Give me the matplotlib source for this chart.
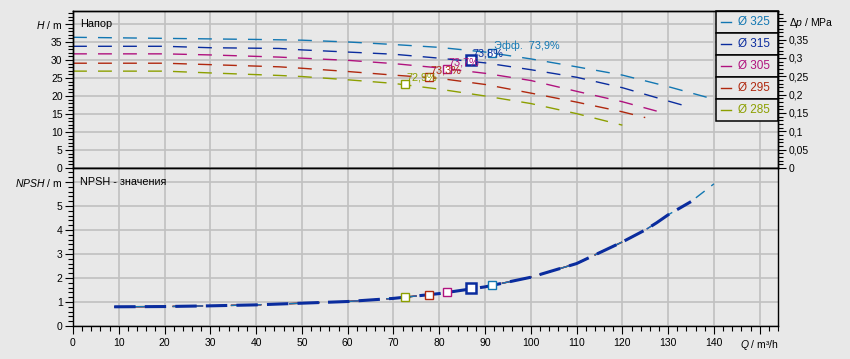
import numpy as np
import matplotlib
matplotlib.use('Agg')
import matplotlib.pyplot as plt
from matplotlib.patches import Rectangle
from matplotlib.ticker import MultipleLocator, FuncFormatter

plt.rcParams['font.family'] = ['Liberation Sans', 'DejaVu Sans']
plt.rcParams['mathtext.fontset'] = 'custom'
plt.rcParams['mathtext.it'] = 'Liberation Sans:italic'
plt.rcParams['mathtext.rm'] = 'Liberation Sans'

# диаметры рабочих колес
diam = [325, 315, 305, 295, 285]
colors = ['#1277b2', '#0a2c9e', '#b0127e', '#b0280e', '#8c9f00']

# напорные характеристики (Q м3/ч, H м)
q_325 = [0, 20, 40, 50, 60, 70, 80, 90, 100, 110, 120, 130, 140, 146]
h_325 = [36.3, 36.0, 35.7, 35.5, 35.0, 34.3, 33.5, 32.2, 30.3, 28.1, 25.8, 22.6, 19.1, 17.0]
q_315 = [0, 20, 30, 45, 50, 60, 70, 80, 90, 100, 110, 120, 130, 135]
h_315 = [33.8, 33.8, 33.4, 33.2, 32.8, 32.2, 31.6, 30.5, 29.2, 27.3, 25.2, 22.3, 18.6, 16.8]
q_305 = [0, 20, 30, 45, 50, 60, 70, 80, 90, 100, 110, 120, 127.5]
h_305 = [31.7, 31.7, 31.4, 30.8, 30.5, 29.9, 29.0, 27.8, 26.3, 24.3, 21.3, 18.4, 15.8]
q_295 = [0, 20, 30, 45, 50, 60, 70, 80, 90, 100, 110, 120, 125]
h_295 = [29.1, 29.1, 28.7, 28.1, 27.7, 26.8, 25.8, 24.9, 23.2, 20.8, 18.3, 15.6, 14.0]
q_285 = [0, 20, 30, 45, 50, 60, 70, 80, 90, 100, 110, 120]
h_285 = [26.9, 26.9, 26.4, 25.7, 25.4, 24.5, 23.5, 21.9, 20.0, 17.9, 15.1, 11.9]
q_h = [q_325, q_315, q_305, q_295, q_285]
h_h = [h_325, h_315, h_305, h_295, h_285]

# NPSH (общая кривая) и конец для каждого диаметра
q_npsh = [9, 20, 30, 40, 50, 60, 70, 80, 90, 100, 110, 120, 125, 127.5, 130, 135, 140]
npsh = [0.80, 0.81, 0.84, 0.88, 0.95, 1.02, 1.15, 1.35, 1.63, 2.03, 2.6, 3.5, 4.0, 4.3, 4.63, 5.18, 5.92]
q_end = [140, 135, 127.5, 125, 120]

# рабочие точки
duty_q = [91.6, 86.9, 81.6, 77.7, 72.5]
duty_h = [32.0, 29.9, 27.5, 25.2, 23.3]
duty_npsh = [1.71, 1.57, 1.42, 1.29, 1.21]
eff_lbl = ['Эфф.  73,9%', '73,8%', '73,7%', '73,3%', '72,9%']

bg = '#e8e8e8'
grid_c = '#c0c0c0'
W, H = 850, 359
x0, x1 = 73, 778
h_top = 43.6
npsh_top = 6.58

fig = plt.figure(figsize=(8.5, 3.59), dpi=100, facecolor=bg)
ax1 = fig.add_axes([x0 / W, 1 - 168 / H, (x1 - x0) / W, 157 / H], facecolor=bg)
ax2 = fig.add_axes([x0 / W, 1 - 326 / H, (x1 - x0) / W, 158 / H], facecolor=bg)

for ax in (ax1, ax2):
    ax.set_xlim(0, 154)
    ax.xaxis.set_major_locator(MultipleLocator(10))
    ax.xaxis.set_minor_locator(MultipleLocator(2))
    ax.grid(True, which='major', color=grid_c, lw=1.2, zorder=0)
    ax.set_axisbelow(True)
    for s in ax.spines.values():
        s.set_linewidth(1.0)
    ax.tick_params(which='major', length=6, width=0.8, labelsize=7.5, pad=1.5)
    ax.tick_params(which='minor', length=3.6, width=0.8)

ax1.set_ylim(0, h_top)
ax1.yaxis.set_major_locator(MultipleLocator(5))
ax1.yaxis.set_minor_locator(MultipleLocator(1))
ax1.yaxis.set_major_formatter(FuncFormatter(
    lambda v, p: '$\\mathit{H}$ / m' if abs(v - 40) < 1e-6 else f'{v:.0f}'))
ax1.tick_params(axis='x', which='both', length=0, labelbottom=False)

ax2.set_ylim(0, npsh_top)
ax2.yaxis.set_major_locator(MultipleLocator(1))
ax2.yaxis.set_minor_locator(MultipleLocator(0.2))
ax2.yaxis.set_major_formatter(FuncFormatter(
    lambda v, p: '$\\mathit{NPSH}$ / m' if abs(v - 6) < 1e-6 else f'{v:.0f}'))
ax2.xaxis.set_major_formatter(FuncFormatter(
    lambda v, p: '$\\mathit{Q}$ / m³/h' if abs(v - 150) < 1e-6 else f'{v:.0f}'))
ax2.tick_params(axis='x', which='major', pad=3)

# правая ось давления
ax1r = ax1.twinx()
ax1r.set_ylim(0, h_top * 0.00981)
ax1r.yaxis.set_major_locator(MultipleLocator(0.05))
ax1r.yaxis.set_minor_locator(MultipleLocator(0.01))
ax1r.yaxis.set_major_formatter(FuncFormatter(
    lambda v, p: '$\\mathit{Δp}$ / MPa' if abs(v - 0.4) < 1e-6 else f'{round(v, 2):g}'.replace('.', ',')))
ax1r.tick_params(which='major', length=6, width=0.8, labelsize=7.5, pad=2)
ax1r.tick_params(which='minor', length=3.6, width=0.8)
for s in ax1r.spines.values():
    s.set_linewidth(1.0)

# напор
for i in range(5):
    ax1.plot(q_h[i], h_h[i], color=colors[i], lw=1.0, dashes=(10, 8), zorder=2)
for i in range(5):
    thick = diam[i] == 315
    ax1.plot(duty_q[i], duty_h[i], 's', ms=6.5 if thick else 5.8, mfc='white',
             mec=colors[i], mew=1.8 if thick else 1.0, zorder=4)
    ax1.annotate(eff_lbl[i], (duty_q[i], duty_h[i]), xytext=(1.5, 2.5),
                 textcoords='offset points', ha='left', va='baseline',
                 color=colors[i], fontsize=7.8, zorder=4)

# NPSH
qn = np.array(q_npsh)
nn = np.array(npsh)
order = [4, 3, 2, 0, 1]
for i in order:
    m = qn <= q_end[i]
    if diam[i] == 315:
        ax2.plot(qn[m], nn[m], color=colors[i], lw=2.2, dashes=(7, 3), zorder=3)
    else:
        ax2.plot(qn[m], nn[m], color=colors[i], lw=1.0, dashes=(8, 6), zorder=2)
for i in range(5):
    thick = diam[i] == 315
    ax2.plot(duty_q[i], duty_npsh[i], 's', ms=6.5 if thick else 5.8, mfc='white',
             mec=colors[i], mew=1.8 if thick else 1.0, zorder=4)

ax1.text(0.01, 0.917, 'Напор', transform=ax1.transAxes, va='center', ha='left', fontsize=7.8)
ax2.text(0.01, 0.913, 'NPSH - значения', transform=ax2.transAxes, va='center', ha='left', fontsize=7.8)

# легенда
lx = (716 - x0) / (x1 - x0)
rh = 22 / 157
for i in range(5):
    yb = 1 - (i + 1) * rh
    ax1.add_patch(Rectangle((lx, yb), 1 - lx, rh, transform=ax1.transAxes,
                            facecolor=bg, edgecolor='black', lw=1.1, zorder=6, clip_on=False))
    ax1.plot([(721 - x0) / (x1 - x0), (731 - x0) / (x1 - x0)], [yb + rh / 2] * 2,
             transform=ax1.transAxes, color=colors[i], lw=1.0, zorder=7, clip_on=False)
    ax1.text((738 - x0) / (x1 - x0), yb + rh / 2, f'Ø {diam[i]}', transform=ax1.transAxes,
             color=colors[i], fontsize=8.5, va='center', ha='left', zorder=7)

fig.savefig('out.png', dpi=100, facecolor=bg)
